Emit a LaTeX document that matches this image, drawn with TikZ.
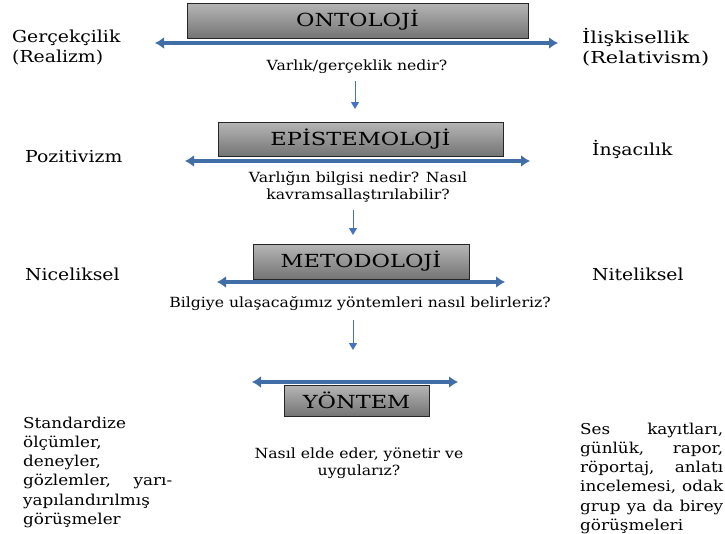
\documentclass[tikz,border=0pt]{standalone}
\usepackage{fontspec}
\setmainfont{DejaVu Serif}[FakeStretch=1.12]
\newfontfamily\headfont{DejaVu Serif}[FakeStretch=1.25]
\newfontfamily\sidefont{DejaVu Serif}[FakeStretch=1.14]
\newfontfamily\widefont{DejaVu Serif}[FakeStretch=1.26]
\usetikzlibrary{arrows.meta}
\definecolor{arrblue}{RGB}{66,110,168}
\definecolor{thinblue}{RGB}{68,114,196}
\definecolor{boxtop}{RGB}{182,182,182}
\definecolor{boxbot}{RGB}{116,116,116}
\begin{document}
\begin{tikzpicture}[x=1pt,y=-1pt,
  hbox/.style={draw=black!85, line width=0.9pt, top color=boxtop, bottom color=boxbot,
    inner sep=0pt, font=\headfont\fontsize{18}{20}\selectfont},
  dbl/.style={line width=4.5pt, draw=arrblue, {Latex[length=9pt,width=12pt]}-{Latex[length=9pt,width=12pt]}},
  down/.style={line width=1pt, draw=thinblue, -{Triangle[length=7pt,width=8pt]}},
  body/.style={inner sep=0pt, font=\fontsize{14}{17}\selectfont, align=center},
  side/.style={inner sep=0pt, anchor=west, font=\sidefont\fontsize{16.5}{20}\selectfont, align=left},
  col/.style={inner sep=0pt, anchor=north west, font=\fontsize{15}{19.1}\selectfont, align=left}
]
\useasboundingbox (0,0) rectangle (725,533);

% ONTOLOJI
\node[hbox, minimum width=341, minimum height=35] (onto) at (357.5,20.5) {ONTOLOJİ};
\coordinate (a1l) at (155,43); \coordinate (a1r) at (558,43);
\draw[dbl] (a1l) -- (a1r);
\node[body] (q1) at (357,67) {Varlık/gerçeklik nedir?};
\coordinate (d1s) at (355,81); \coordinate (d1e) at (355,109);
\draw[down] (d1s) -- (d1e);

% EPISTEMOLOJI
\node[hbox, minimum width=285, minimum height=34] (epi) at (360.5,139) {EPİSTEMOLOJİ};
\coordinate (a2l) at (185,161); \coordinate (a2r) at (530,161);
\draw[dbl] (a2l) -- (a2r);
\node[body] (q2) at (358,186.5) {Varlığın bilgisi nedir? Nasıl\\kavramsallaştırılabilir?};
\coordinate (d2s) at (353,210); \coordinate (d2e) at (353,235);
\draw[down] (d2s) -- (d2e);

% METODOLOJI
\node[hbox, minimum width=216, minimum height=35] (meto) at (361,261.5) {METODOLOJİ};
\coordinate (a3l) at (217,282); \coordinate (a3r) at (505,282);
\draw[dbl] (a3l) -- (a3r);
\node[body] (q3) at (360,304) {Bilgiye ulaşacağımız yöntemleri nasıl belirleriz?};
\coordinate (d3s) at (353,320); \coordinate (d3e) at (353,350);
\draw[down] (d3s) -- (d3e);

% YONTEM
\node[hbox, minimum width=145, minimum height=31] (yon) at (356.5,400.5) {YÖNTEM};
\coordinate (a4l) at (252,382); \coordinate (a4r) at (458,382);
\draw[dbl] (a4l) -- (a4r);
\node[body] (q4) at (359,463.5) {Nasıl elde eder, yönetir ve\\uygularız?};

% left labels
\node[side] (real) at (12,47.5) {Gerçekçilik\\(Realizm)};
\node[side] (pozi) at (25,157) {Pozitivizm};
\node[side] (nice) at (25,274) {Niceliksel};

% right labels
\node[side, font=\widefont\fontsize{16.5}{20}\selectfont] (rela) at (582,47.5) {İlişkisellik\\(Relativism)};
\node[side] (insa) at (592,149) {İnşacılık};
\node[side] (nite) at (592,274) {Niteliksel};

% columns
\node[col] (lcol) at (23,417) {Standardize\\ölçümler,\\deneyler,\\\hbox to 149pt{gözlemler,\hfill yarı-}\\yapılandırılmış\\görüşmeler};
\node[col] (rcol) at (580,423) {\hbox to 143pt{Ses\hfill kayıtları,}\\\hbox to 143pt{günlük,\hfill rapor,}\\\hbox to 143pt{röportaj,\hfill anlatı}\\\hbox to 143pt{incelemesi,\hfill odak}\\\hbox to 143pt{grup\hfill ya\hfill da\hfill birey}\\görüşmeleri};
\end{tikzpicture}
\end{document}
